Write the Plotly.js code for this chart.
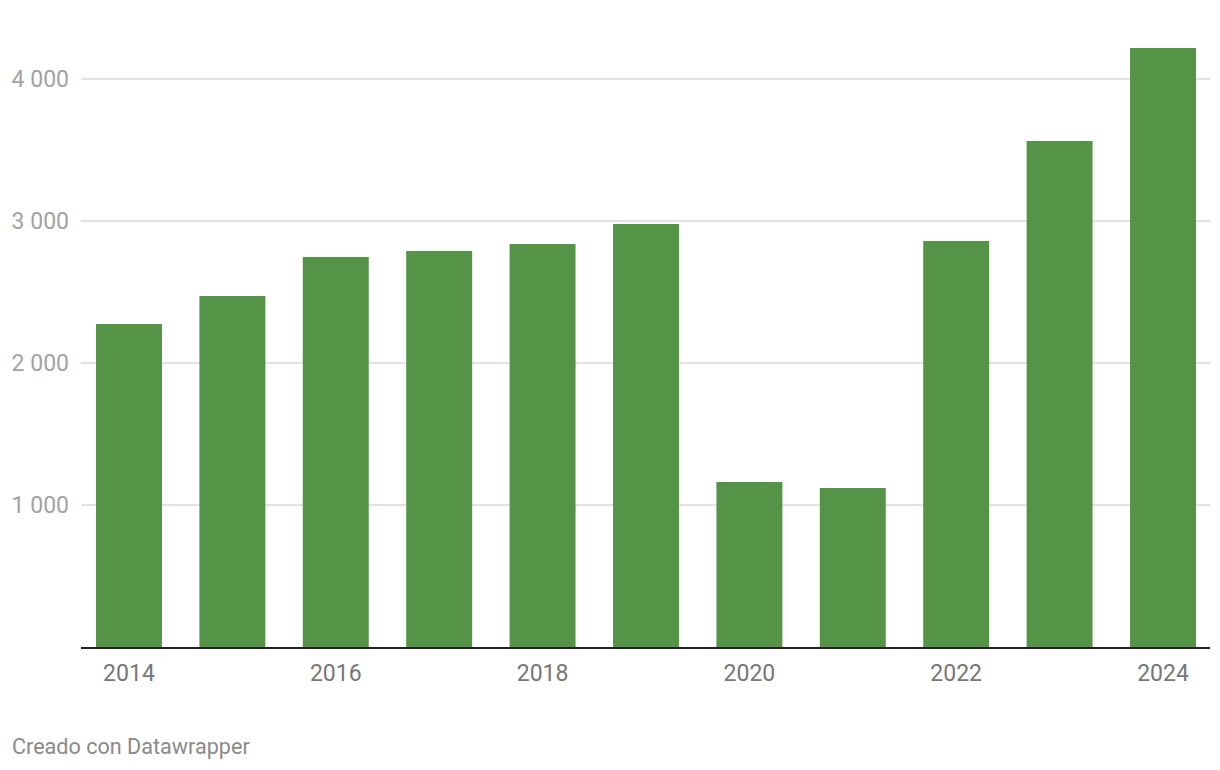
<!DOCTYPE html>
<html>
<head>
<meta charset="utf-8">
<script src="https://cdn.plot.ly/plotly-3.0.1.min.js"></script>
<style>
html,body{margin:0;padding:0;background:#fff;}
#chart{width:1220px;height:770px;}
</style>
</head>
<body>
<div id="chart"></div>
<script>
const years = [2014, 2015, 2016, 2017, 2018, 2019, 2020, 2021, 2022, 2023, 2024];
const values = [2275, 2472, 2746, 2789, 2838, 2979, 1162, 1120, 2859, 3563, 4218];
const xTickVals = [2014, 2016, 2018, 2020, 2022, 2024];
const yTickVals = [1000, 2000, 3000, 4000];
const caption = "Creado con Datawrapper";

const W = 1220, H = 770;
const mL = 81, mR = 10, mT = 30, mB = 123;
const plotW = W - mL - mR;

const trace = {
  type: 'bar',
  x: years,
  y: values,
  width: 0.638,
  marker: {color: '#559447'},
  hoverinfo: 'x+y'
};

const layout = {
  width: W, height: H,
  margin: {l: mL, r: mR, t: mT, b: mB, pad: 0},
  paper_bgcolor: '#ffffff',
  plot_bgcolor: '#ffffff',
  separators: ', ',
  font: {family: 'Roboto, sans-serif'},
  showlegend: false,
  xaxis: {
    range: [2013.536, 2024.4545],
    tickvals: xTickVals,
    ticktext: xTickVals.map(String),
    showgrid: false,
    zeroline: false,
    showline: true,
    linecolor: '#222222',
    linewidth: 2,
    ticks: '',
    ticklabelstandoff: 4,
    tickfont: {family: 'Roboto, sans-serif', size: 23, color: '#777777'}
  },
  yaxis: {
    range: [0, 4345],
    tickvals: yTickVals,
    tickformat: ',d',
    showgrid: true,
    gridcolor: '#e2e2e2',
    gridwidth: 1.5,
    zeroline: false,
    showline: false,
    ticks: '',
    ticklabelstandoff: 11,
    tickfont: {family: 'Roboto, sans-serif', size: 23, color: '#a3a3a3'}
  },
  annotations: [{
    text: caption,
    xref: 'paper', yref: 'paper',
    x: (10 - mL) / plotW, y: -(746 - (H - mB)) / (H - mT - mB),
    xanchor: 'left', yanchor: 'middle',
    showarrow: false,
    font: {family: 'Roboto, sans-serif', size: 21.6, color: '#8a8a8a'}
  }]
};

Plotly.newPlot('chart', [trace], layout, {displayModeBar: false, staticPlot: true});
</script>
</body>
</html>
